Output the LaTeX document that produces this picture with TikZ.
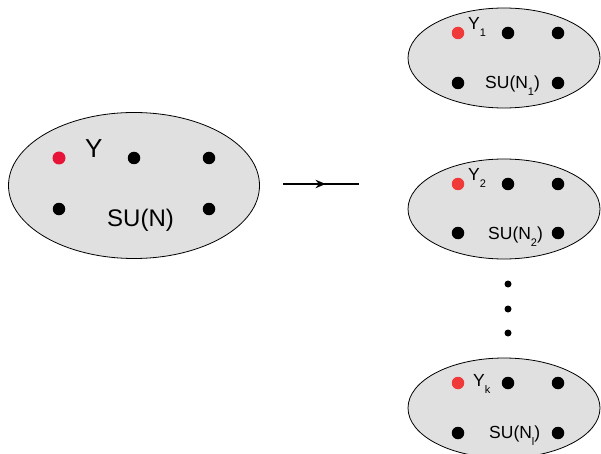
\documentclass[tikz,border=0pt]{standalone}
\usepackage{fontspec}
\setmainfont{Liberation Sans}
\usetikzlibrary{arrows.meta,decorations.markings,shapes.geometric}
\definecolor{cellgray}{RGB}{224,224,224}
\definecolor{hotred}{RGB}{232,20,55}
\definecolor{softred}{RGB}{240,58,58}
\newcommand{\lowsub}[1]{\raisebox{-7pt}{\fontsize{11}{11}\selectfont #1}}
\tikzset{
  cell/.style={draw=black, line width=0.8pt, fill=cellgray},
  blackdot/.style={circle, fill=black, inner sep=0pt, minimum size=12.5pt},
  reddot/.style={circle, fill=softred, inner sep=0pt, minimum size=12.5pt},
  bigreddot/.style={circle, fill=hotred, inner sep=0pt, minimum size=13pt},
  smalldot/.style={circle, fill=black, inner sep=0pt, minimum size=7pt},
  biglabel/.style={inner sep=0pt, anchor=base west, font=\fontsize{24}{24}\selectfont},
  smalllabel/.style={inner sep=0pt, anchor=base west, font=\fontsize{17.5}{18}\selectfont},
}
\begin{document}
\begin{tikzpicture}[x=1pt, y=-1pt]
  \useasboundingbox (0,0) rectangle (601,454);
  \clip (0,0) rectangle (601,454);

  % the single cell on the left
  \node[cell, ellipse, minimum width=251pt, minimum height=146pt] (big) at (134,185.5) {};
  \node[bigreddot] (b1) at (59,158) {};
  \node[blackdot] (b2) at (134,158) {};
  \node[blackdot] (b3) at (209,158) {};
  \node[blackdot] (b4) at (59,209) {};
  \node[blackdot] (b5) at (209,209) {};
  \node[biglabel, font=\fontsize{26}{26}\selectfont] (yl) at (85,158) {Y};
  \node[biglabel] (sul) at (107,226) {SU(N)};

  % the map
  \coordinate (arrA) at (283,184);
  \coordinate (arrB) at (359,184);
  \draw[line width=1.1pt, postaction={decorate},
        decoration={markings, mark=at position 0.56 with {\arrow{Stealth[length=10pt,width=8.5pt]}}}]
    (arrA) -- (arrB);

  % the cells on the right
  \foreach \name/\cy in {one/58, two/209, three/408}{
    \node[cell, ellipse, minimum width=192pt, minimum height=100pt] (\name) at (504,\cy) {};
  }

  \node[reddot] (r11) at (458,33) {};
  \node[blackdot] (r12) at (508,33) {};
  \node[blackdot] (r13) at (558,33) {};
  \node[blackdot] (r14) at (458,83) {};
  \node[blackdot] (r15) at (558,83) {};
  \node[smalllabel] (y1) at (468,30) {Y\lowsub{1}};
  \node[smalllabel] (su1) at (485,89) {SU(N\lowsub{1})};

  \node[reddot] (r21) at (458,184) {};
  \node[blackdot] (r22) at (508,184) {};
  \node[blackdot] (r23) at (558,184) {};
  \node[blackdot] (r24) at (458,233) {};
  \node[blackdot] (r25) at (558,233) {};
  \node[smalllabel] (y2) at (468,181) {Y\lowsub{2}};
  \node[smalllabel] (su2) at (488,239) {SU(N\lowsub{2})};

  \node[smalldot] (v1) at (508,284) {};
  \node[smalldot] (v2) at (508,309) {};
  \node[smalldot] (v3) at (508,333) {};

  \node[reddot] (r31) at (458,383) {};
  \node[blackdot] (r32) at (508,383) {};
  \node[blackdot] (r33) at (558,383) {};
  \node[blackdot] (r34) at (458,433) {};
  \node[blackdot] (r35) at (558,433) {};
  \node[smalllabel] (y3) at (473,386) {Y\lowsub{k}};
  \node[smalllabel] (su3) at (489,438) {SU(N\lowsub{l})};
\end{tikzpicture}
\end{document}
